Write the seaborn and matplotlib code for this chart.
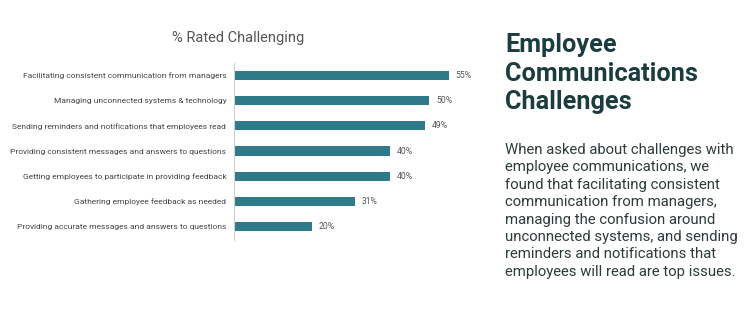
import matplotlib
matplotlib.use("Agg")
import matplotlib.pyplot as plt
import seaborn as sns
import pandas as pd

categories = [
    "Facilitating consistent communication from managers",
    "Managing unconnected systems & technology",
    "Sending reminders and notifications that employees read",
    "Providing consistent messages and answers to questions",
    "Getting employees to participate in providing feedback",
    "Gathering employee feedback as needed",
    "Providing accurate messages and answers to questions",
]
values = [55, 50, 49, 40, 40, 31, 20]
value_labels = [f"{v}%" for v in values]

chart_title = "% Rated Challenging"
heading = "Employee\nCommunications\nChallenges"
body_lines = [
    "When asked about challenges with",
    "employee communications, we",
    "found that facilitating consistent",
    "communication from managers,",
    "managing the confusion around",
    "unconnected systems, and sending",
    "reminders and notifications that",
    "employees will read are top issues.",
]

sns.set_theme(style="white")
plt.rcParams["font.family"] = ["Roboto", "DejaVu Sans"]

W, H = 754, 333
fig = plt.figure(figsize=(W / 100, H / 100), dpi=100)
fig.patch.set_facecolor("white")

# axes placed in pixel terms: left edge at x=234, top at y=62, bottom at y=240
ax_left, ax_right = 234, 468
ax_top, ax_bottom = 62.5, 239.5
ax = fig.add_axes([ax_left / W, 1 - ax_bottom / H,
                   (ax_right - ax_left) / W, (ax_bottom - ax_top) / H])

df = pd.DataFrame({"category": categories, "value": values})
bar_color = "#2e7a88"
sns.barplot(data=df, y="category", x="value", orient="h", color=bar_color,
            width=0.36, saturation=1, ax=ax, edgecolor="none")

ax.set_xlim(0, 60)
ax.set_ylim(len(categories) - 0.5, -0.5)
ax.set_xlabel("")
ax.set_ylabel("")
ax.set_xticks([])
ax.tick_params(axis="y", length=0, pad=5.5, labelsize=6.05, labelcolor="#444444")
for s in ["top", "right", "bottom"]:
    ax.spines[s].set_visible(False)
ax.spines["left"].set_color("#d0d0d0")
ax.spines["left"].set_linewidth(0.8)

for i, (v, lab) in enumerate(zip(values, value_labels)):
    ax.text(v + 1.8, i, lab, va="center", ha="left", fontsize=6.2, color="#555555")

fig.text(238 / W, 1 - 38 / H, chart_title, ha="center", va="center",
         fontsize=10.5, color="#555555")

fig.text(505 / W, 1 - 33 / H, heading, ha="left", va="top",
         fontsize=18.2, fontweight="bold", color="#1c3d3f", linespacing=1.25)

fig.text(505 / W, 1 - 143 / H, "\n".join(body_lines), ha="left", va="top",
         fontsize=10.7, color="#2e3b3b", linespacing=1.31)

fig.savefig("out.png", dpi=100, facecolor="white")
